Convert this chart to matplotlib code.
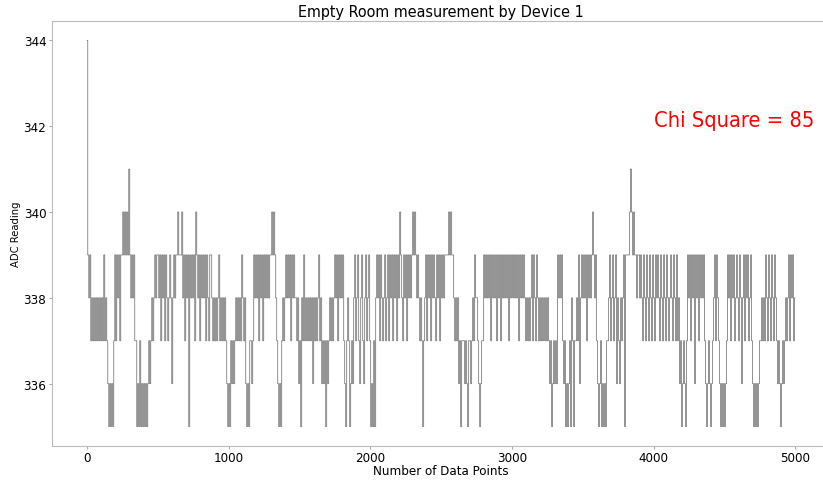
import matplotlib
matplotlib.use('Agg')
import matplotlib.pyplot as plt
import numpy as np

# ADC readings, one character per ~7 samples
# digit -> reading: 5..9 -> 335..339, 0 -> 340, 1 -> 341, 4 -> 344
trace_a = ("49897" "8787878787879787" "6565657" "9798979" "909090919" "89897"
           "7565756565656767" "878" "9899897989798789" "868989" "909990"
           "8979895989897098979898")
trace_b = ("9798799" "878787897878787" "656576767" "8787879878" "65657767"
           "9898979897989898990909" "8765657878" "989897989887"
           "8675879787878786878789786")
trace_c = ("7675767878789897989897657875676" "89789768976897897" "565758"
           "9897987897897989798979" "80987989798989" "0909898787"
           "57897989798987" "9897")
trace_d = ("9898999909099" "878786757776765776787988765677"
           "989898979898979897989898979898989897989898"
           "787878979879878787878787675676769")
trace_e = ("8989767" "5656758" "7577879" "6898989" "7989890" "9897"
           "6567565" "6577897" "8978968" "7687895" "9999010" "9099899" "8"
           "9879879" "8798798" "7989879" "8798798" "7898798" "7")
trace_f = ("9786756" "7657989" "7989698" "9798989" "7656765" "67"
           "8979876" "5656567" "9897989" "7898798" "6897989" "7897"
           "6565656" "7787879" "8798798" "7987676" "5676787" "8979897" "8")

code = {'5': 335, '6': 336, '7': 337, '8': 338, '9': 339,
        '0': 340, '1': 341, '4': 344}
trace = trace_a + trace_b + trace_c + trace_d + trace_e + trace_f
readings = np.array([code[c] for c in trace])
samples = np.linspace(0, 4999, len(readings))

chi_square = 85

plt.rcParams['font.family'] = ['DejaVu Sans']
plt.rcParams['font.stretch'] = 'condensed'

fig = plt.figure(figsize=(8.23, 4.81), dpi=100)
# right edge of the axes runs just past the image edge, as in the original
ax = fig.add_axes([0.063, 0.071, 0.946, 0.883])
ax.plot(samples, readings, color='gray', linewidth=0.6, drawstyle='steps-mid')

ax.set_title('Empty Room measurement by Device 1', fontsize=11.5, pad=4)
ax.set_xlabel('Number of Data Points', fontsize=9.5, labelpad=0)
ax.set_ylabel('ADC Reading', fontsize=8, labelpad=2)
ax.set_yticks([336, 338, 340, 342, 344])
ax.set_xticks([0, 1000, 2000, 3000, 4000, 5000])
ax.tick_params(labelsize=9.5, color='#aaaaaa', length=2, pad=2)
for s in ax.spines.values():
    s.set_color('#bbbbbb')
ax.text(4000, 342, f'Chi Square = {chi_square}', color='red', fontsize=15.7)

plt.savefig('out.png')
plt.close()
